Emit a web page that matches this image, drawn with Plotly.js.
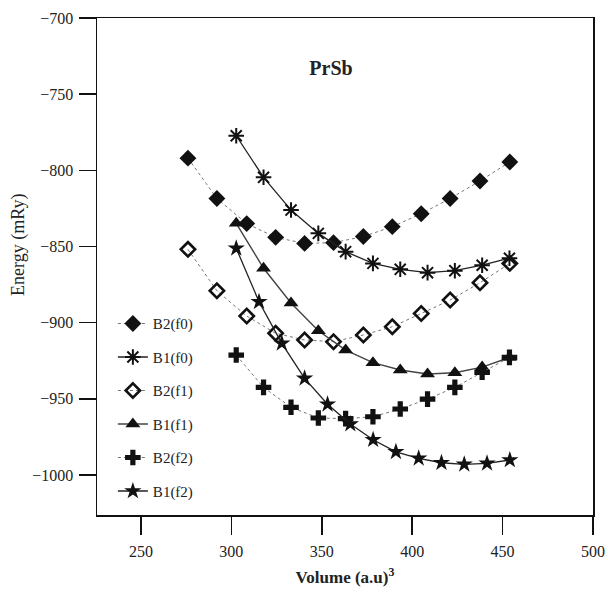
<!DOCTYPE html>
<html>
<head>
<meta charset="utf-8">
<script src="https://cdn.plot.ly/plotly-3.0.1.min.js"></script>
<style>html,body{margin:0;padding:0;background:#fff;}#chart{width:608px;height:592px;}</style>
</head>
<body>
<div id="chart"></div>
<script>
// Volumes (a.u)^3
var volB2 = [276, 292, 308.5, 324.5, 340.5, 356.5, 373, 389, 405, 421, 437.5, 454];
var volB1 = [302.7, 317.8, 333, 348.1, 363.2, 378.3, 393.4, 408.5, 423.6, 438.7, 453.8];
var volB1f2 = [302.7, 315.3, 327.9, 340.5, 353.2, 365.8, 378.4, 391.0, 403.6, 416.2, 428.8, 441.4, 454.0];

// Energies (mRy)
var eB2f0 = [-792, -818.5, -835, -844, -848, -847.5, -843.5, -837, -828.5, -818.5, -807, -794.5];
var eB1f0 = [-777.3, -804.6, -826.1, -841.4, -853.4, -861.1, -865.0, -867.2, -865.9, -862.3, -857.7];
var eB2f1 = [-851.9, -879.1, -895.7, -907.0, -911.4, -912.5, -908.1, -902.7, -894.0, -885.2, -873.8, -861.1];
var eB1f1 = [-834.8, -864.3, -887.1, -905.3, -918.0, -926.3, -931.1, -933.7, -932.9, -929.2, -922.9];
var eB2f2 = [-921.3, -942.5, -955.6, -962.6, -963.0, -961.8, -956.7, -950.2, -942.5, -932.6, -922.8];
var eB1f2 = [-851.2, -886.3, -913.6, -936.6, -953.6, -966.6, -976.9, -984.8, -989.1, -992.0, -993.0, -992.4, -990.2];

var seriesNames = ['B2(f0)', 'B1(f0)', 'B2(f1)', 'B1(f1)', 'B2(f2)', 'B1(f2)'];
var xTicks = [250, 300, 350, 400, 450, 500];
var yTicks = [-1000, -950, -900, -850, -800, -750, -700];

var FONT = 'Liberation Serif, Times New Roman, serif';
var dotLine = {color: '#777', width: 1, dash: 'dot'};
var solidLine = {color: '#222', width: 1.3};

function tr(x, y, name, line, marker, g) {
  return {x: x, y: y, name: name, type: 'scatter', mode: 'lines+markers',
          line: line, marker: marker, legendgroup: g};
}

var data = [
  tr(volB2, eB2f0, seriesNames[0], dotLine,
     {symbol: 'diamond', size: 13, color: '#111'}, 'g0'),
  tr(volB1, eB1f0, seriesNames[1], solidLine,
     {symbol: 'asterisk-open', size: 13, color: '#111', line: {width: 2, color: '#111'}}, 'g1'),
  tr(volB2, eB2f1, seriesNames[2], dotLine,
     {symbol: 'diamond-open', size: 11, color: '#111', line: {width: 2.6, color: '#111'}}, 'g2'),
  tr(volB1, eB1f1, seriesNames[3], {color: '#444', width: 1.4},
     {symbol: 'triangle-up', size: 13, color: '#111'}, 'g3'),
  tr(volB1, eB2f2, seriesNames[4], dotLine,
     {symbol: 'cross', size: 13, color: '#111'}, 'g4'),
  tr(volB1f2, eB1f2, seriesNames[5], solidLine,
     {symbol: 'star', size: 13, color: '#111'}, 'g5')
];

var axisCommon = {
  showgrid: false, zeroline: false, showline: true, mirror: true,
  linecolor: '#111', linewidth: 1.5, ticks: 'outside', tickcolor: '#111',
  tickwidth: 1.5, tickfont: {family: FONT, size: 16, color: '#222'}
};

var layout = {
  width: 608, height: 592,
  margin: {l: 97, r: 15, t: 18, b: 77},
  paper_bgcolor: '#fff', plot_bgcolor: '#fff',
  font: {family: FONT, color: '#222'},
  title: {text: '<b>PrSb</b>', font: {family: FONT, size: 20, color: '#222'},
          x: 331 / 608, xanchor: 'center', y: 1 - 68 / 592, yanchor: 'middle', yref: 'container'},
  xaxis: Object.assign({}, axisCommon, {
    range: [225.7, 500], tickvals: xTicks, ticklen: 18, ticklabelstandoff: 3,
    title: {text: '<b>Volume (a.u)<sup>3</sup></b>', font: {family: FONT, size: 17, color: '#222'}, standoff: 12}
  }),
  yaxis: Object.assign({}, axisCommon, {
    range: [-1026.3, -700], tickvals: yTicks, ticklen: 17, ticklabelstandoff: 2
  }),
  annotations: [{
    text: 'Energy (mRy)', xref: 'paper', yref: 'paper',
    x: (18 - 97) / 496, y: (515 - 245) / 497, xanchor: 'center', yanchor: 'middle',
    textangle: -90, showarrow: false, font: {family: FONT, size: 18, color: '#222'}
  }],
  showlegend: true,
  legend: {
    x: 0.032, y: 0.418, xanchor: 'left', yanchor: 'top',
    bgcolor: 'rgba(0,0,0,0)', font: {family: FONT, size: 15, color: '#222'},
    traceorder: 'grouped', tracegroupgap: 11, itemsizing: 'trace'
  }
};

Plotly.newPlot('chart', data, layout, {displayModeBar: false, staticPlot: true});
</script>
</body>
</html>
